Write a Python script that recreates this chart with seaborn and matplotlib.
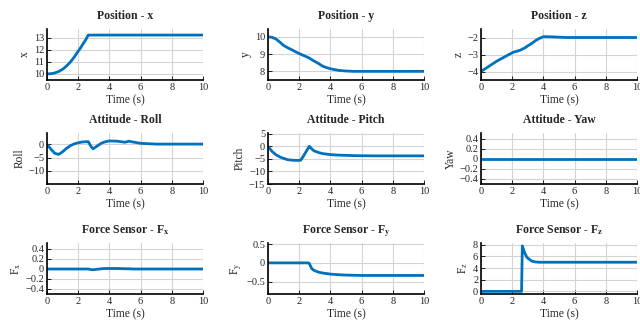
import numpy as np
import pandas as pd
import matplotlib
matplotlib.use('Agg')
import matplotlib.pyplot as plt
import seaborn as sns

# Data (time in s)
time = [0, 0.25, 0.5, 0.75, 1.0, 1.25, 1.5, 1.75, 2.0, 2.1, 2.25, 2.5, 2.6, 2.65,
        2.8, 2.95, 3.25, 3.5, 3.75, 4.0, 4.5, 5.0, 5.25, 5.5, 6.0, 7.0, 8.0, 9.0, 10.0]

pos_x = [10.0, 10.02, 10.08, 10.2, 10.38, 10.65, 10.98, 11.4, 11.88, 12.05, 12.35, 12.85, 13.1, 13.2,
         13.2, 13.2, 13.2, 13.2, 13.2, 13.2, 13.2, 13.2, 13.2, 13.2, 13.2, 13.2, 13.2, 13.2, 13.2]
pos_y = [10.0, 9.97, 9.88, 9.7, 9.5, 9.37, 9.26, 9.14, 9.03, 8.99, 8.93, 8.83, 8.79, 8.77,
         8.68, 8.6, 8.45, 8.3, 8.22, 8.15, 8.06, 8.02, 8.01, 8.0, 8.0, 8.0, 8.0, 8.0, 8.0]
pos_z = [-4.0, -3.85, -3.7, -3.55, -3.4, -3.27, -3.15, -3.02, -2.9, -2.86, -2.82, -2.75, -2.71, -2.68,
         -2.62, -2.52, -2.35, -2.18, -2.05, -1.95, -1.96, -1.98, -1.99, -2.0, -2.0, -2.0, -2.0, -2.0, -2.0]
roll = [0.0, -1.8, -3.4, -3.8, -2.8, -1.5, -0.5, 0.2, 0.6, 0.7, 0.9, 1.0, 1.0, 1.0,
        -0.6, -1.7, -0.5, 0.5, 1.0, 1.3, 1.2, 0.8, 1.2, 0.9, 0.4, 0.1, 0.1, 0.1, 0.1]
pitch = [0.0, -2.0, -3.3, -4.2, -4.8, -5.3, -5.5, -5.6, -5.6, -5.5, -4.1, -1.5, -0.5, 0.0,
         -1.0, -1.8, -2.5, -2.9, -3.1, -3.3, -3.5, -3.6, -3.65, -3.7, -3.75, -3.8, -3.8, -3.8, -3.8]
yaw = [0.0] * len(time)
force_x = [0.0, 0.0, 0.0, 0.0, 0.0, 0.0, 0.0, 0.0, 0.0, 0.0, 0.0, 0.0, 0.0, 0.0,
           -0.01, -0.015, -0.005, 0.005, 0.01, 0.01, 0.01, 0.005, 0.005, 0.0, 0.0, 0.0, 0.0, 0.0, 0.0]
force_y = [0.0, 0.0, 0.0, 0.0, 0.0, 0.0, 0.0, 0.0, 0.0, 0.0, 0.0, 0.0, 0.0, -0.02,
           -0.15, -0.2, -0.25, -0.27, -0.285, -0.3, -0.315, -0.325, -0.328, -0.33, -0.335, -0.335, -0.335, -0.335, -0.335]
force_z = [0.0, 0.0, 0.0, 0.0, 0.0, 0.0, 0.0, 0.0, 0.0, 0.0, 0.0, 0.0, 0.0, 7.8,
           6.6, 5.8, 5.2, 5.05, 5.0, 5.0, 5.0, 5.0, 5.0, 5.0, 5.0, 5.0, 5.0, 5.0, 5.0]

titles = ['Position - x', 'Position - y', 'Position - z',
          'Attitude - Roll', 'Attitude - Pitch', 'Attitude - Yaw',
          r'Force Sensor - F$_\mathbf{x}$', r'Force Sensor - F$_\mathbf{y}$', r'Force Sensor - F$_\mathbf{z}$']
ylabels = ['x', 'y', 'z', 'Roll', 'Pitch', 'Yaw',
           r'F$_\mathrm{x}$', r'F$_\mathrm{y}$', r'F$_\mathrm{z}$']
series = [pos_x, pos_y, pos_z, roll, pitch, yaw, force_x, force_y, force_z]
yticks = [[10, 11, 12, 13], [8, 9, 10], [-4, -3, -2],
          [-10, -5, 0], [-15, -10, -5, 0, 5], [-0.4, -0.2, 0, 0.2, 0.4],
          [-0.4, -0.2, 0, 0.2, 0.4], [-0.5, 0, 0.5], [0, 2, 4, 6, 8]]
ylims = [(9.5, 13.7), (7.5, 10.45), (-4.5, -1.5),
         (-15, 4.3), (-15, 5.3), (-0.5, 0.52),
         (-0.5, 0.52), (-0.83, 0.53), (-0.45, 8.3)]

sns.set_theme(style='whitegrid')
plt.rcParams['font.family'] = ['Liberation Serif', 'DejaVu Serif']
plt.rcParams['mathtext.fontset'] = 'stix'

fig = plt.figure(figsize=(6.4, 3.26), dpi=100)

# axes boxes in pixels (left, top, width, height)
lefts = [47, 268, 481]
tops = [29, 133, 243]
w, h = 156, 51

for i in range(9):
    r, c = divmod(i, 3)
    ax = fig.add_axes([lefts[c] / 640, 1 - (tops[r] + h) / 326, w / 640, h / 326])
    df = pd.DataFrame({'t': time, 'v': series[i]})
    sns.lineplot(data=df, x='t', y='v', ax=ax, color='#0072BD', linewidth=2)
    ax.set_xlim(0, 10)
    ax.set_ylim(*ylims[i])
    ax.set_xticks([0, 2, 4, 6, 8, 10])
    ax.set_yticks(yticks[i])
    ax.set_yticklabels([f'{v:g}'.replace('-', '\u2212') for v in yticks[i]])
    ax.grid(True, color='#d4d4d4', linewidth=0.8)
    ax.set_facecolor('white')
    for s in ['top', 'right']:
        ax.spines[s].set_visible(False)
    for s in ['left', 'bottom']:
        ax.spines[s].set_color('black')
        ax.spines[s].set_linewidth(1.2)
    ax.tick_params(axis='both', direction='in', length=3, width=0.6, color='black',
                   labelsize=7.5, pad=2, left=True, bottom=True)
    ax.set_title(titles[i], fontsize=8.5, fontweight='bold', pad=7)
    ax.set_xlabel('Time (s)', fontsize=8.3, labelpad=2)
    ax.set_ylabel(ylabels[i], fontsize=8.3, labelpad=2)

fig.savefig('out.png', dpi=100)
